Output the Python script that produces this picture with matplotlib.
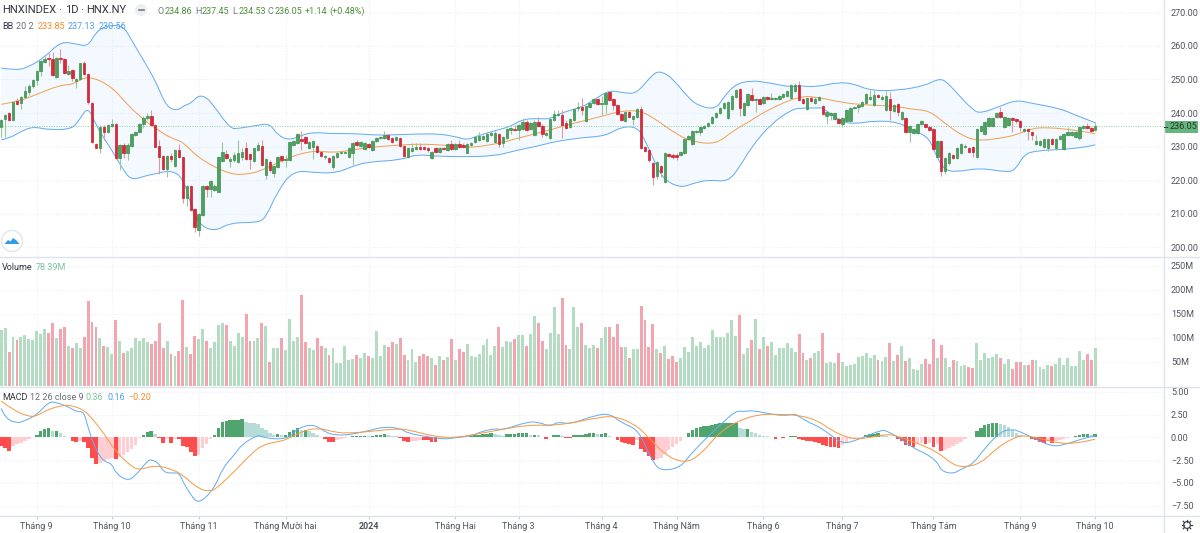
import matplotlib
matplotlib.use("Agg")
import matplotlib.pyplot as plt
from matplotlib.patches import Circle, PathPatch, Polygon, Rectangle
from matplotlib.path import Path
import numpy as np

plt.rcParams['font.family'] = ['Roboto', 'DejaVu Sans']

# daily candles (10 per row)
opens = [
    236, 238.1, 239.9, 238, 243.6, 242.9, 244.9, 246.3, 248, 249.8,
    252.4, 255.2, 256.4, 256.2, 250.8, 256.4, 256, 251.6, 252.8, 249.7,
    250.1, 254.8, 251.6, 242.9, 230.7, 229.7, 236, 234.5, 236.2, 236.8,
    226.7, 230.5, 228, 230.3, 233.5, 234.3, 236.9, 238.4, 239.1, 236.4,
    230.3, 227.2, 223.3, 227.3, 224.3, 229, 226.8, 214.8, 218.2, 211.6,
    205.2, 209.7, 218.2, 217.5, 217.1, 216.6, 225.7, 227.8, 225.7, 226,
    225.5, 227, 229.7, 227.8, 225.8, 229, 230.3, 221.6, 225.5, 222.3,
    224, 227.2, 226, 226, 230.5, 231, 232.3, 232.8, 229.7, 229.8,
    230.3, 228.5, 226.8, 226.5, 224, 227, 228, 228.2, 226.8, 228,
    231.3, 230.3, 229.3, 230.7, 229, 231.7, 232.6, 232.5, 233.5, 232.5,
    232, 232.7, 230.2, 226.8, 228.7, 229.3, 229.9, 229.9, 229.7, 226.7,
    229.5, 228.5, 229.5, 229, 230.7, 229.2, 230.8, 230.6, 228.2, 230.4,
    231.5, 232, 232.4, 231.7, 233.5, 231.5, 233.8, 231, 232.6, 235,
    235.4, 235.1, 235.4, 237.4, 235.4, 233.5, 237.4, 236.3, 233.6, 232.7,
    237.9, 239.4, 239.4, 237, 236, 237.9, 241.4, 241.7, 237.7, 241.9,
    242.9, 244.1, 242.6, 242.7, 246.2, 244.1, 242.4, 239.7, 237.7, 240.4,
    238.1, 238.9, 241.2, 229.8, 229, 225.2, 221.3, 224.4, 219.4, 227.9,
    227.6, 227.6, 227.4, 228.2, 232.4, 230.9, 234.4, 234.5, 235.7, 236.2,
    237, 238.7, 239.9, 241.4, 238.4, 241.1, 244.9, 247.1, 239.4, 242.4,
    245.4, 243.8, 244.1, 242.9, 244.8, 244.2, 244.1, 244.1, 244.7, 245.1,
    244.6, 246.7, 248.4, 244.2, 241.1, 244.6, 243.1, 243.9, 242.2, 239.2,
    239.4, 238.1, 238.1, 236.9, 237.6, 237.6, 241.4, 241.9, 242.1, 242.9,
    244.1, 242.4, 245.5, 244.1, 240.9, 244.2, 240.6, 242.6, 238.1, 238.6,
    234.3, 234.2, 234.2, 236.7, 236.9, 236, 235.3, 226.8, 231.7, 222.9,
    225, 227.5, 226.5, 228, 229.8, 229.7, 229.8, 227, 234.8, 233.8,
    236.3, 236.3, 238.7, 240.2, 236, 236.6, 238.4, 238.1, 237.5, 234.8,
    235.2, 234.4, 230.8, 230.4, 229.8, 229.5, 232.4, 229.6, 232.2, 229.2,
    233.4, 233.5, 233, 232.7, 235.5, 236.2, 235.7, 234.86,
]
closes = [
    238, 239.4, 238, 243.2, 242.7, 244.9, 246.5, 248, 249.8, 252.5,
    255.4, 256.2, 256, 251.2, 256.3, 256, 251.8, 252.6, 250.3, 250.1,
    254.8, 251.6, 243.2, 231.3, 229.7, 235.8, 234.5, 236.5, 236.8, 226.7,
    230.5, 228, 230.5, 233.7, 234.3, 236.8, 238.6, 239.2, 236.4, 230,
    227, 223.3, 227.2, 226.2, 229, 227, 214.8, 218.2, 211.3, 206.2,
    209.9, 218.2, 217.5, 219.7, 218.4, 227, 228.4, 226.5, 226.2, 227.5,
    228, 228.5, 226.3, 226.3, 229.7, 230.5, 224.5, 226.2, 223, 224.3,
    227, 226, 226.3, 231.3, 231.8, 233.7, 231.7, 231, 231.5, 231.7,
    228.3, 227.2, 227.2, 225.5, 227.2, 228.2, 228.3, 228.5, 229.5, 231.2,
    230.5, 231.5, 231, 229.8, 231.7, 232.7, 232.9, 233.5, 232.3, 231.3,
    232.8, 230.2, 227.3, 229.5, 229.5, 230, 229.4, 229.4, 229, 228.5,
    228.3, 229.5, 229.2, 230.7, 229.2, 230.7, 230, 230, 230.8, 231.2,
    232.8, 233.2, 233.2, 233.8, 234.2, 234.2, 230.8, 232.8, 235.4, 235.5,
    235.1, 236.4, 237.4, 235, 237, 237.4, 236.2, 233.7, 234, 238.1,
    239.7, 239.7, 236.6, 235.7, 238.1, 241.2, 241.7, 240.9, 242.1, 243.1,
    244.1, 242.6, 242.9, 246.1, 243.9, 242.4, 239.6, 237.9, 240.4, 238.7,
    239.1, 241.2, 229.7, 228.8, 226, 220.9, 225.4, 222.6, 228, 227.3,
    226.8, 227, 228.4, 232.4, 233.1, 234.8, 234.8, 236, 236.2, 237,
    238.8, 240.1, 241.6, 242.9, 243.4, 245.2, 247, 241.6, 242.9, 245.6,
    243.9, 244.1, 242.7, 244.9, 244.3, 244.5, 244.4, 245.2, 245.7, 246.6,
    248.3, 248.3, 243.9, 243.1, 244.6, 243.7, 244.1, 244.7, 239.6, 240.4,
    239.9, 239.9, 237.2, 238.4, 240.9, 241.4, 241.9, 242.4, 243.2, 245.6,
    244.7, 245.4, 244.9, 244.9, 245.1, 240.9, 242.4, 240.4, 240.4, 234.5,
    236.3, 235.3, 236.7, 237.6, 236, 235, 229.2, 231.7, 222.8, 226.7,
    228, 226.5, 229.5, 230.8, 230.3, 228.5, 228.5, 235.2, 236.2, 237.3,
    238.5, 238.5, 240.1, 238.9, 238.9, 238.4, 237.9, 237.5, 236, 235.2,
    234.7, 233.4, 231.6, 231.6, 232.2, 232.4, 230.8, 232.4, 233.2, 233.8,
    234.5, 234.5, 234.5, 236, 236.2, 235.6, 234.8, 236.05,
]
highs = [
    238.2, 239.8, 240.2, 243.4, 244.5, 245.2, 248, 248.6, 250, 252.8,
    255.7, 257, 258, 258.2, 256.6, 259.2, 256.3, 254.2, 253, 250.5,
    255, 255.5, 251.8, 243.2, 231, 236.5, 236.4, 236.8, 238.2, 237,
    230.8, 231, 231, 234, 234.6, 237.1, 239, 240, 240.8, 236.8,
    232, 227.5, 227.5, 228, 229.3, 230.7, 227, 218.5, 218.5, 211.9,
    210.2, 218.5, 218.5, 220, 219, 227.3, 231.3, 229, 226.8, 228.5,
    232, 229.5, 231.5, 228.2, 230, 231.5, 232, 226.5, 226, 224.7,
    227.3, 227.5, 227.5, 231.6, 232.1, 234, 234.7, 233.2, 231.8, 232,
    230.6, 228.8, 227.5, 226.8, 227.5, 228.5, 228.6, 228.8, 229.8, 231.5,
    232, 231.8, 231.3, 231, 232, 233, 233.3, 234.8, 233.8, 232.8,
    233.2, 233, 230.5, 229.8, 231, 231, 231, 230.3, 230, 228.8,
    229.8, 229.8, 230, 231, 232, 231, 232, 231, 231.1, 231.5,
    233.1, 234.3, 233.6, 234.3, 234.8, 234.6, 234.1, 233.1, 235.7, 236,
    236.5, 236.8, 238.5, 237.8, 237.4, 237.8, 238.7, 236.7, 234.3, 238.4,
    241, 241, 241, 237.8, 238.4, 241.5, 243.4, 244.5, 242.4, 243.4,
    244.4, 244.5, 245, 246.4, 246.7, 244.4, 242.7, 240, 240.7, 240.7,
    239.4, 241.5, 242.2, 230.2, 229.3, 225.5, 225.7, 224.7, 228.3, 228.2,
    228, 228, 228.7, 232.7, 233.4, 235.1, 235.1, 236.3, 236.5, 237.3,
    239.1, 240.4, 241.9, 243.2, 243.7, 245.5, 247.3, 247.4, 243.2, 245.9,
    247.5, 244.4, 244.4, 245.2, 245.1, 246, 244.7, 245.5, 246, 246.9,
    248.6, 249, 249.5, 244.5, 244.9, 245, 244.7, 245.2, 242.5, 240.7,
    240.2, 240.2, 238.4, 238.7, 241.2, 241.7, 242.2, 242.7, 243.5, 245.9,
    246.9, 246.8, 245.8, 245.5, 246.5, 246.3, 242.7, 242.9, 240.7, 238.9,
    236.6, 235.6, 237, 238, 237.2, 236.3, 235.6, 232, 232, 227,
    228.3, 227.8, 229.8, 231.1, 230.8, 230, 230.1, 235.5, 236.5, 237.6,
    238.8, 238.8, 240.4, 241.8, 239.2, 238.7, 238.7, 238.4, 237.8, 235.5,
    235.5, 234.7, 233.5, 231.9, 232.5, 232.7, 232.7, 232.7, 233.5, 234.1,
    235.8, 234.8, 234.8, 236.3, 236.5, 237.2, 236, 237.45,
]
lows = [
    232.8, 232.8, 237.6, 237.8, 242.3, 241.2, 244.5, 245.5, 247.5, 248.5,
    250.9, 254.8, 254, 251, 250.3, 254.8, 251.5, 251.4, 249.5, 247.5,
    249.8, 251.4, 242.8, 231, 229.5, 228.1, 232, 234.2, 236, 226.4,
    223, 226.5, 226, 230, 233.2, 234, 235.5, 238, 236.2, 229.8,
    222, 223, 220.9, 225.5, 224, 226.6, 213.2, 212.3, 211, 204.7,
    203.4, 209.5, 215, 215, 216.8, 216.4, 225.4, 226.2, 224, 225.5,
    225.2, 226, 226, 223.5, 225.5, 228.7, 224.2, 220.5, 222.5, 221,
    223.7, 225.5, 224, 225.8, 230.2, 230.7, 229, 230.7, 229.4, 226.3,
    228, 227, 226.4, 225.2, 223.5, 226.7, 227.8, 228, 226.5, 224.5,
    230.2, 230, 229, 229.5, 228.8, 231.4, 232.3, 232.2, 232, 231,
    231.7, 230, 227, 226.5, 228.4, 229, 229.1, 229.1, 228.3, 226.4,
    228, 228.2, 229, 228.7, 229, 229, 229.7, 229.7, 228, 230.1,
    231.2, 231.7, 232.1, 231.4, 233.2, 231.2, 230, 230, 232.3, 233.8,
    234.8, 232, 235.1, 234.7, 235.1, 233.2, 235.9, 233, 233.3, 232.2,
    237.6, 239.1, 232.7, 235.4, 235.7, 237.6, 240.5, 239.5, 237.4, 241.6,
    242.6, 242.3, 239.5, 240, 243.6, 241, 239.3, 237.6, 237.4, 238.4,
    236.5, 238.6, 229.4, 228.5, 225.5, 218.5, 220.5, 221, 219.1, 226.8,
    226.2, 226, 227.1, 227.9, 232.1, 230.6, 234.1, 233.6, 235.4, 235.9,
    236.7, 238.4, 239.6, 241.1, 238.1, 240.8, 244.6, 239, 239.1, 242.1,
    243.6, 240.3, 242.4, 242.6, 244, 243.9, 243.8, 243.8, 244.4, 244.8,
    244.3, 246.4, 243.6, 242.8, 240.8, 243.4, 242.6, 243.6, 239.3, 236.7,
    237.9, 237.8, 236.9, 236, 237.3, 237.3, 241.1, 240.2, 241.8, 242.6,
    243.8, 242.1, 244.6, 243.8, 240.6, 238, 240.3, 239, 237.8, 234.2,
    231.5, 233.9, 233.9, 236.4, 235.7, 234.7, 228.9, 226.5, 221.3, 221.8,
    224.5, 226.2, 226.2, 227.7, 229.5, 228.2, 227, 226.7, 234.5, 233.5,
    236, 236, 238.4, 238.6, 235.7, 236.3, 234.3, 237.2, 234.8, 234.5,
    232, 232, 230.5, 230.1, 229.5, 228.7, 230.5, 229, 231.9, 229,
    233.1, 233.2, 232.7, 232.1, 235.2, 235.3, 234.5, 234.53,
]

# volume in millions
volumes = [
    117, 121, 71, 101, 96, 101, 106, 97, 95, 114,
    107, 118, 110, 131, 99, 118, 123, 83, 79, 88,
    79, 102, 176, 133, 122, 100, 83, 81, 66, 137,
    93, 69, 72, 79, 99, 93, 99, 90, 87, 93,
    130, 78, 93, 65, 62, 73, 178, 81, 66, 103,
    97, 118, 93, 78, 90, 126, 131, 126, 94, 83,
    109, 102, 149, 94, 93, 99, 131, 125, 50, 79,
    78, 100, 75, 139, 93, 102, 188, 92, 78, 75,
    99, 82, 78, 64, 79, 48, 48, 82, 53, 56,
    64, 57, 69, 62, 58, 114, 62, 85, 81, 90,
    86, 100, 64, 53, 76, 49, 62, 66, 62, 57,
    43, 62, 53, 60, 97, 53, 76, 71, 86, 62,
    60, 66, 85, 97, 64, 82, 122, 81, 93, 92,
    97, 105, 105, 82, 108, 145, 130, 94, 76, 110,
    164, 108, 183, 85, 76, 164, 122, 130, 85, 79,
    85, 78, 99, 123, 122, 101, 128, 81, 81, 57,
    76, 76, 166, 137, 81, 128, 76, 69, 82, 56,
    61, 49, 57, 81, 71, 102, 83, 90, 78, 85,
    116, 101, 101, 101, 109, 137, 104, 147, 67, 79,
    95, 138, 76, 101, 83, 90, 64, 78, 79, 89,
    78, 71, 108, 69, 53, 58, 68, 72, 110, 48,
    49, 48, 68, 49, 41, 43, 46, 60, 62, 68,
    58, 64, 53, 51, 60, 89, 51, 64, 82, 51,
    58, 35, 33, 46, 56, 46, 97, 57, 85, 58,
    39, 53, 51, 40, 43, 39, 36, 89, 53, 69,
    58, 60, 67, 57, 46, 56, 35, 49, 50, 43,
    44, 53, 53, 39, 35, 44, 40, 46, 58, 43,
    58, 42, 42, 72, 53, 65, 54, 78.39,
]

# MACD histogram
macd_hist = [
    -.9, -1.15, -1.45, -1, -.75, -.6, -.4, -.2, .05, .3,
    .75, .9, 1, .7, .7, .5, .2, .05, -.4, -.55,
    -.4, -.55, -1.15, -2.3, -2.95, -2.8, -2.6, -2.4, -2.3, -2.4,
    -2.1, -1.9, -1.65, -1.3, -.85, -.1, .25, .6, .7, .35,
    -.1, -.65, -.2, -.6, -.2, -.2, -1, -1.1, -1.55, -2.05,
    -1.95, -1.2, -.75, -.2, .25, 1.05, 1.65, 1.8, 1.85, 1.9,
    1.95, 2.05, 1.7, 1.6, 1.55, 1.5, 1.05, .8, .45, .25,
    .35, .25, .25, .6, .8, 1, .8, .8, .75, .5,
    .25, .05, -.2, -.5, -.5, -.3, -.2, -.1, 0, .15,
    .2, .2, .2, .1, .2, .25, .3, .35, .25, .15,
    .1, -.07, -.4, -.47, -.4, -.36, -.33, -.33, -.33, -.47,
    -.47, -.15, -.07, -.04, 0, 0, 0, .04, .04, .11,
    .22, .29, .36, .4, .47, .36, .22, .15, .33, .36,
    .4, .44, .44, .44, .26, .26, .22, .04, -.22, .04,
    .22, .26, .11, -.07, -.07, .22, .22, .29, .36, .44,
    .51, .33, .33, .44, .18, .07, -.29, -.55, -.66, -.73,
    -.8, -.29, -1.28, -1.64, -2.04, -2.48, -2.37, -2.3, -1.86, -1.39,
    -1.09, -.77, -.36, 0, .47, .84, 1.06, 1.17, 1.2, 1.28,
    1.35, 1.46, 1.53, 1.57, 1.57, 1.57, 1.57, .99, .91, .91,
    .62, .44, .22, .15, .11, .04, -.15, 0, -.04, .07,
    .11, .15, -.18, -.33, -.36, -.4, -.51, -.66, -.84, -.99,
    -1.06, -1.09, -1.13, -.84, -.47, -.18, -.07, -.04, 0, .26,
    .33, .4, .44, .26, .15, .07, .04, -.22, -.36, -.84,
    -.91, -1.09, -.73, -.66, -.77, -.58, -1.02, -.77, -1.5, -1.39,
    -1.2, -.95, -.73, -.47, -.18, .04, .04, .69, 1.06, 1.35,
    1.46, 1.53, 1.57, 1.42, 1.31, 1.09, .77, .47, .26, .04,
    .07, -.15, -.33, -.47, -.58, -.4, -.66, -.4, -.29, -.18,
    -.07, .04, .15, .26, .36, .4, .26, .36,
]

# band and oscillator lines
bb_upper_idx = [0, 4, 7, 11, 15, 19, 22, 24, 27, 31, 33, 36, 39, 42, 45, 46, 48, 50, 52, 54, 58, 60, 65, 68, 70, 73, 76, 79, 83, 90, 95,
                101, 106, 111, 115, 118, 120, 125, 129, 132, 136, 139, 142, 147, 150, 154, 158, 161, 165, 167, 170, 174, 177, 181, 183, 186, 190, 194, 200,
                202, 206, 212, 216, 220, 227, 234, 237, 239, 242, 246, 248, 253, 257, 261, 268, 272, 277]
bb_upper = [253.4, 252.7, 253.8, 256.6, 261.3, 260.6, 259.8, 264.2, 266.2, 265.9, 261.7, 255.8, 249.8, 241.4, 240.9, 242.1, 242.9, 245.3, 244.7, 241.9, 235.4, 235.4, 236.4, 236.9, 233.4, 231.9, 233.4, 234.3, 233.9, 233.9, 233.4,
            233.6, 233.8, 233.8, 233, 232, 233, 234.8, 236, 238.2, 238.4, 238.2, 240.2, 241.7, 243.9, 246.9, 245.9, 245.9, 251.7, 252.5, 250.4, 244.4, 241.9, 241.2, 244.9, 248.7, 249.7, 249.1, 247.7,
            248.2, 247.7, 249.2, 248.7, 246.7, 246.7, 248.2, 250.1, 249.8, 245.9, 240.9, 239.9, 242.1, 243.9, 242.9, 241.4, 239.4, 237.13]
bb_lower_idx = [0, 2, 5, 8, 12, 18, 20, 22, 24, 26, 28, 31, 33, 37, 39, 43, 46, 48, 50, 54, 58, 65, 67, 70, 74, 80, 85, 89, 93,
                101, 105, 110, 116, 125, 130, 136, 140, 147, 153, 157, 161, 163, 166, 168, 172, 175, 179, 184, 187, 190, 195, 200,
                202, 207, 208, 213, 217, 221, 227, 232, 235, 237, 239, 242, 248, 255, 257, 259, 262, 269, 274, 277]
bb_lower = [232, 232.5, 234.5, 236, 235, 235.2, 238.4, 241.9, 236.5, 232.5, 229, 222.9, 220, 221.5, 221.9, 223, 220.8, 212.9, 206.9, 204.7, 207.4, 207.4, 208.9, 216.8, 223, 222.2, 222.2, 224.2, 225.5,
            226, 227.7, 227.2, 227, 227.2, 228.8, 230.2, 231.5, 232.7, 233.2, 235.9, 235.9, 232, 224, 220, 217.8, 219, 220.2, 219.5, 224, 230, 236.9, 240.9,
            241.5, 241.5, 241.6, 237.1, 236.9, 237.7, 237.4, 234.3, 232.5, 226.5, 223, 222.5, 223.7, 222.3, 223.5, 227.7, 228.8, 229.2, 229.8, 230.56]
bb_mid_idx = [0, 4, 8, 15, 18, 22, 28, 32, 36, 39, 43, 46, 50, 58, 63, 66, 70, 73, 76, 80, 84, 89, 93,
              101, 106, 112, 118, 121, 126, 133, 139, 145, 152, 157, 162, 166, 171, 175, 181, 185, 190, 194,
              202, 207, 213, 219, 226, 231, 235, 239, 243, 247, 253, 257, 261, 265, 270, 274, 277]
bb_mid = [242.6, 243.4, 245.1, 248.4, 248.4, 251.3, 247.9, 242.4, 238.1, 235.5, 232.5, 231.5, 226.5, 221.6, 221.9, 223, 225.2, 226.8, 228, 228.8, 228.2, 229, 229.8,
          230.5, 230.8, 230.5, 229.8, 230, 231, 233.2, 235, 237, 239, 240.7, 240.7, 237.9, 233.7, 231.5, 230.7, 234.5, 237.9, 240.9,
          245.1, 244.7, 243.1, 242.4, 242.1, 241.1, 240.7, 236.9, 233.5, 231.7, 232.5, 233.5, 235.5, 235.7, 235.2, 234.5, 233.85]
macd_idx = [0, 1, 4, 6, 9, 12, 14, 17, 19, 21, 22, 24, 26, 28, 29, 32, 34, 37, 38, 40, 41, 43, 45, 46, 48, 50, 54, 56, 59, 61, 65, 66, 69, 73, 75, 79, 82, 84, 88, 93, 97,
            101, 103, 108, 112, 115, 119, 121, 125, 127, 133, 136, 139, 141, 144, 150, 154, 157, 161, 163, 165, 167, 172, 175, 182, 186, 188, 190, 194, 198, 201,
            202, 205, 207, 210, 213, 216, 219, 223, 224, 227, 231, 234, 237, 238, 241, 243, 246, 249, 253, 256, 258, 262, 266, 269, 274, 277]
macd_line = [3.18, 2.08, 1.53, 1.82, 2.44, 3.9, 3.83, 3.35, 2.81, 2.81, .99, -1.39, -2.66, -2.85, -3.95, -4.78, -4.2, -2.59, -2.41, -2.85, -3.76, -3.95, -3.84, -4.85, -6.31, -7.34, -5.58, -3.39, -1.93, -.73, .26, .07, -.22, -.04, .99, 1.46, .62, .26, .26, .73, 1.17,
             .99, .44, .07, -.22, -.04, .15, .55, .99, .8, 1.68, 1.68, 1.17, 1.72, 1.42, 2.37, 2.63, 1.61, .88, -.84, -2.66, -3.69, -3.32, -1.57, 1.35, 2.92, 2.81, 2.96, 2.63, 2.34, 2.59,
             2.26, 1.53, 1.17, .26, -.69, -.4, .15, .8, .73, .07, -1.2, -1.75, -2.66, -3.69, -4.01, -3.47, -2.96, -1.2, .62, .91, .62, -.22, -.99, -.84, -.11, .16]
signal_idx = [0, 3, 7, 9, 12, 16, 18, 21, 23, 26, 29, 33, 35, 39, 44, 47, 50, 53, 55, 59, 63, 66, 70, 72, 76, 80, 84, 87, 93,
              101, 105, 110, 115, 120, 126, 133, 139, 144, 150, 155, 160, 163, 168, 173, 177, 182, 187, 192, 196,
              202, 207, 210, 215, 219, 224, 227, 232, 237, 241, 244, 248, 252, 256, 259, 264, 268, 272, 277]
signal_line = [3.98, 2.99, 2.26, 2.34, 3.1, 3.54, 3.47, 2.99, 2.08, .44, -1.57, -3.2, -3.58, -3.03, -3.58, -4.49, -5.66, -5.95, -5.4, -3.76, -1.93, -.84, -.47, -.29, .62, 1.06, .62, .44, .62,
               1.0, .62, .07, -.04, .33, .8, 1.35, 1.31, 1.53, 2.08, 2.37, 1.53, .44, -1.93, -2.85, -1.93, .62, 1.9, 2.52, 2.52,
               2.45, 1.79, .8, -.18, -.11, .36, .15, -.66, -1.57, -3.03, -3.28, -2.85, -1.2, -.11, .26, -.22, -.66, -.66, -.2]

month_idx = [9, 28, 50, 72, 93, 115, 131, 152, 171, 193, 213, 236, 258, 277]
month_labels = ['Tháng 9', 'Tháng 10', 'Tháng 11', 'Tháng Mười hai', '2024', 'Tháng Hai', 'Tháng 3',
                'Tháng 4', 'Tháng Năm', 'Tháng 6', 'Tháng 7', 'Tháng Tám', 'Tháng 9', 'Tháng 10']
price_ticks = [200, 210, 220, 230, 240, 250, 260, 270]
volume_ticks = [50, 100, 150, 200, 250]
macd_ticks = [-7.5, -5, -2.5, 0, 2.5, 5]
last_close = 236.05

GREEN, RED = '#4f9f62', '#d8293b'
GRID = '#edeff4'
LABEL = '#50535e'
FS = 6.5

W, H = 1200, 533


def panel(top, bottom):
    return [0, 1 - bottom / H, 1164 / W, (bottom - top) / H]


def smooth_line(ax, xs, ys, color, zorder):
    # rounds the corners between the read points, the curve stays on the chart's scales
    pts = list(zip(xs, ys))
    verts = [pts[0]]
    codes = [Path.MOVETO]
    for a, b in zip(pts[1:-1], pts[2:]):
        verts += [a, ((a[0] + b[0]) / 2, (a[1] + b[1]) / 2)]
        codes += [Path.CURVE3, Path.CURVE3]
    verts.append(pts[-1])
    codes.append(Path.LINETO)
    ax.add_patch(PathPatch(Path(verts, codes), fill=False, edgecolor=color, lw=0.72, zorder=zorder))


fig = plt.figure(figsize=(12, 5.33), dpi=100)
ax0 = fig.add_axes(panel(0, 257))
ax1 = fig.add_axes(panel(257, 386.5))
ax2 = fig.add_axes(panel(386.5, 515.5))
for ax in (ax0, ax1, ax2):
    ax.set_xlim(-0.3, 294.4)
    ax.yaxis.tick_right()
    ax.tick_params(axis='y', length=0, labelsize=FS, labelcolor=LABEL, pad=5)
    ax.tick_params(axis='x', length=0, labelbottom=False)
    ax.set_xticks(month_idx)
    ax.grid(True, color=GRID, lw=0.8, ls=(0, (1, 1.5)))
    ax.set_axisbelow(True)
    for s in ax.spines.values():
        s.set_visible(False)

idx = np.arange(len(closes))
o, h, l, c = map(np.array, (opens, highs, lows, closes))
up = c >= o

# price panel
ax0.set_ylim(197.17, 273.66)
ax0.set_yticks(price_ticks)
ax0.set_yticklabels(['%.2f' % t for t in price_ticks])
ax0.fill(bb_upper_idx + bb_lower_idx[::-1], bb_upper + bb_lower[::-1], color='#2196f3', alpha=0.05, lw=0, zorder=1)
smooth_line(ax0, bb_upper_idx, bb_upper, '#64acf2', 2)
smooth_line(ax0, bb_lower_idx, bb_lower, '#64acf2', 2)
smooth_line(ax0, bb_mid_idx, bb_mid, '#f4a050', 2)
ax0.axhline(last_close, color='#8fcf9f', lw=0.7, ls=(0, (1, 1.5)), zorder=2)
ax0.vlines(idx[up], l[up], h[up], color='#9cc49f', lw=0.8, zorder=3)
ax0.vlines(idx[~up], l[~up], h[~up], color='#dd9aa0', lw=0.8, zorder=3)
ax0.bar(idx[up], (c - o)[up], bottom=o[up], width=0.62, color=GREEN, edgecolor='#3a9048', lw=0.5, zorder=4)
ax0.bar(idx[~up], (o - c)[~up], bottom=c[~up], width=0.62, color=RED, edgecolor='#c9202f', lw=0.5, zorder=4)

# volume panel
ax1.set_ylim(-1.7, 268)
ax1.set_yticks(volume_ticks)
ax1.set_yticklabels(['%dM' % t for t in volume_ticks])
vol_colors = ['#b3dcc2' if u else '#f2a5ae' for u in up]
ax1.bar(idx, volumes, width=0.74, color=vol_colors, zorder=3)

# macd panel
ax2.set_ylim(-8.56, 5.57)
ax2.set_yticks(macd_ticks)
ax2.set_yticklabels([('%.2f' % t).replace('-', '\u2212') for t in macd_ticks])
hist_colors = []
prev = macd_hist[0]
for v in macd_hist:
    if v >= 0:
        hist_colors.append('#4fa56d' if v >= prev else '#b5dcd6')
    else:
        hist_colors.append('#ffcdd2' if v > prev else '#ff4d4d')
    prev = v
ax2.bar(idx, macd_hist, width=0.9, color=hist_colors, zorder=2)
smooth_line(ax2, macd_idx, macd_line, '#64acf2', 3)
smooth_line(ax2, signal_idx, signal_line, '#f59b45', 3)
ax2.tick_params(axis='x', length=2.5, color='#c8cbd3', labelbottom=True, labelsize=FS, labelcolor=LABEL, pad=2.5)
ax2.set_xticklabels(month_labels)
ax2.get_xticklabels()[4].set_fontweight('bold')

# overlay in pixels for separators, legends and the small icons
ov = fig.add_axes([0, 0, 1, 1], zorder=10)
ov.set_xlim(0, W)
ov.set_ylim(H, 0)
ov.axis('off')
for y in (257, 386.5, 515.5):
    ov.plot([0, W], [y, y], color='#e0e3eb', lw=1)
ov.plot([1164, 1164], [0, H], color='#e0e3eb', lw=1)


def label(x, y, s, color=LABEL, size=FS, **kw):
    ov.text(x, y, s, color=color, fontsize=size, va='center', ha='left', **kw)


for x, s in [(2, 'HNXINDEX'), (58.5, '\u00b7'), (65, '1D'), (80.5, '\u00b7'), (86, 'HNX.NY')]:
    label(x, 10, s, color='#33363f', size=8)
ov.add_patch(Circle((141, 10), 6, color='#eceef2', lw=0))
ov.plot([138.5, 143.5], [10, 10], color='#787b86', lw=1.2)
ohlc_green = '#4f8f3a'
for x, name, val in [(158, 'O', '234.86'), (195, 'H', '237.45'), (232, 'L', '234.53'), (268, 'C', '236.05')]:
    label(x, 11, name, color='#6c7f70')
    label(x + 7, 11, val, color=ohlc_green)
label(305, 11, '+1.14', color=ohlc_green)
label(329, 11, '(+0.48%)', color=ohlc_green)

label(2, 26.5, 'BB', color='#33363f')
label(16, 26.5, '20 2', color='#6a6d78')
label(38, 26.5, '233.85', color='#f58a2a')
label(68, 26.5, '237.13', color='#4f9ff0')
label(98.5, 26.5, '230.56', color='#4f9ff0')

label(2, 268, 'Volume', color='#33363f')
label(36, 268, '78.39M', color='#7fc29b')

label(2, 397.5, 'MACD', color='#33363f')
label(30, 397.5, '12 26 close 9', color='#6a6d78')
label(86, 397.5, '0.36', color='#7fc29b')
label(107, 397.5, '0.16', color='#4f9ff0')
label(128, 397.5, '\u22120.20', color='#f58a2a')

# last price tag
ov.add_patch(Rectangle((1164, 120.5), 34, 12, color='#66b57c', lw=0))
ov.plot([1164, 1167], [126.5, 126.5], color='#33363f', lw=0.7)
label(1170, 126.5, '236.05', color='#1f3a28', size=FS)

# logo bottom left of the price panel
ov.add_patch(Circle((12, 241), 10.5, facecolor='white', edgecolor='#e3e5ea', lw=1))
ov.add_patch(Polygon([(4.5, 244), (8, 240), (10.5, 241.5), (13, 238), (16, 240), (19.5, 244)], color='#2f9bea', lw=0))

# settings gear bottom right
ov.add_patch(Circle((1187, 525), 3.4, facecolor='none', edgecolor='#3c3f4a', lw=0.8))
for a in np.arange(0, 360, 45):
    dx, dy = np.cos(np.radians(a)), np.sin(np.radians(a))
    ov.plot([1187 + 3.4 * dx, 1187 + 5.2 * dx], [525 + 3.4 * dy, 525 + 5.2 * dy], color='#3c3f4a', lw=0.9)

fig.savefig('out.png', dpi=100)
